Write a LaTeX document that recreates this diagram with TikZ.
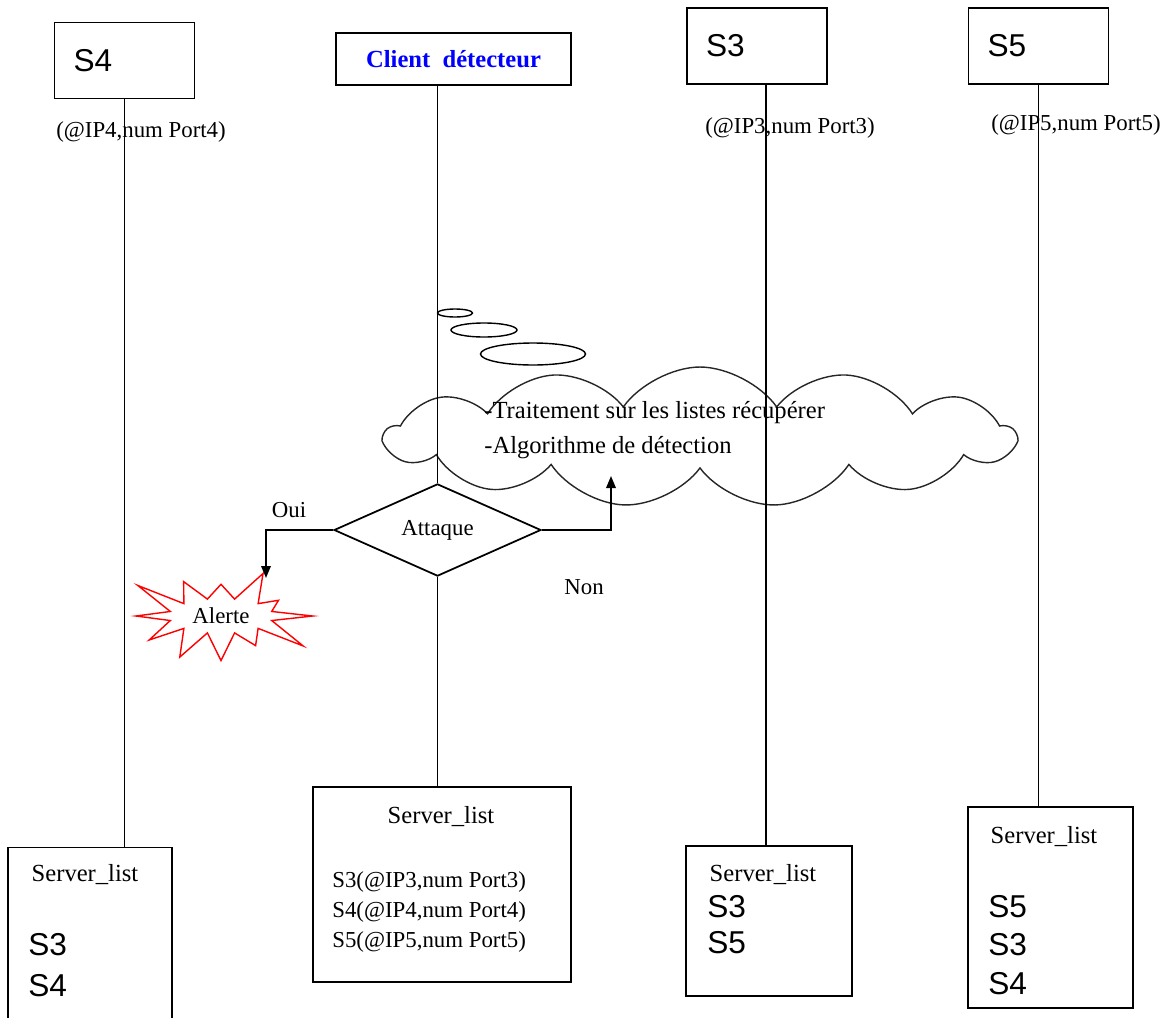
\documentclass[tikz,border=0pt]{standalone}
\usepackage{fontspec}
\setmainfont{Liberation Serif}
\setsansfont{Liberation Sans}
\usepackage{tikz}
\usetikzlibrary{positioning,arrows.meta,shapes.geometric,shapes.symbols}

\begin{document}
\begin{tikzpicture}[
  x=0.02cm, y=-0.02cm,
  font=\fontsize{13}{15}\selectfont,
  srv/.style={draw, line width=1pt, minimum height=1.52cm, text width=2.04cm, inner xsep=0.38cm,
              align=left, font=\sffamily\fontsize{18}{20}\selectfont},
  lst/.style={draw, line width=1pt, inner sep=0pt},
  items/.style={anchor=west, align=left, inner sep=0pt, font=\sffamily\fontsize{18}{22}\selectfont},
  ips/.style={anchor=west, align=left, inner sep=0pt, font=\fontsize{13}{16.8}\selectfont},
  ttl/.style={font=\fontsize{14}{16}\selectfont, inner sep=0pt},
  life/.style={line width=1.1pt},
  arr/.style={-{Triangle[length=2.4mm,width=1.9mm]}, line width=1pt},
  bubble/.style={draw, ellipse, line width=0.8pt, inner sep=0pt},
]
\useasboundingbox (0,0) rectangle (1172,1017);

\node[srv] (s4) at (124.5,60.5) {S4};
\node[srv] (s3) at (757,46) {S3};
\node[srv] (s5) at (1038.5,46) {S5};
\node[draw, line width=1pt, minimum width=4.7cm, minimum height=1.04cm, text=blue,
      font=\bfseries\fontsize{14}{16}\selectfont] (client) at (453.5,59) {Client\enspace détecteur};

\node (ip4) at (141,132) {(@IP4,num Port4)};
\node (ip3) at (790,128) {(@IP3,num Port3)};
\node (ip5) at (1076,125) {(@IP5,num Port5)};

\node[lst, minimum width=3.28cm, minimum height=3.5cm] (s4list) at (90,935) {};
\node[lst, minimum width=5.16cm, minimum height=3.9cm] (clist) at (442,884.5) {};
\node[lst, minimum width=3.32cm, minimum height=3cm] (s3list) at (769,921) {};
\node[lst, minimum width=3.3cm, minimum height=4.02cm] (s5list) at (1050.5,907.5) {};

\node[ttl] (t4) at (85,875) {Server\_list};
\node[ttl] (tc) at (441,817) {Server\_list};
\node[ttl] (t3) at (763,875) {Server\_list};
\node[ttl] (t5) at (1044,837) {Server\_list};

\node[items, font=\sffamily\fontsize{18}{23}\selectfont] (i4) at (28,965) {S3\\S4};
\node[ips] (ic) at (332,912) {S3(@IP3,num Port3)\\S4(@IP4,num Port4)\\S5(@IP5,num Port5)};
\node[items, font=\sffamily\fontsize{18}{20.5}\selectfont] (i3) at (707,925) {S3\\S5};
\node[items] (i5) at (988,945) {S5\\S3\\S4};

\node[cloud, draw=black!85, line width=0.8pt, cloud puffs=13, cloud puff arc=110, aspect=4.5,
      minimum width=12.6cm, minimum height=2.8cm] (cloud) at (700,437) {};
\node[bubble, minimum width=0.7cm, minimum height=0.16cm] (b1) at (455,313) {};
\node[bubble, minimum width=1.32cm, minimum height=0.28cm] (b2) at (484,330) {};
\node[bubble, minimum width=2.1cm, minimum height=0.44cm] (b3) at (533,354) {};
\node[anchor=west, align=left, inner sep=0pt, font=\fontsize{14}{19.5}\selectfont] (proc) at (484,430)
  {-Traitement sur les listes récupérer\\-Algorithme de détection};

\node[draw, diamond, line width=1pt, minimum width=4.14cm, minimum height=1.46cm, inner sep=0pt] (ask)
  at (437.5,530) {Attaque};
\node[starburst, draw=red, line width=0.8pt, starburst points=12, starburst point height=0.9cm,
      random starburst=3, minimum width=3.9cm, minimum height=2.5cm, inner sep=0pt] (alert)
  at (221,616) {Alerte};

\draw[life] (s4.south) -- (s4.south |- s4list.north);
\draw[life] (client.south -| ask.north) -- (ask.north);
\draw[life] (ask.south) -- (ask.south |- clist.north);
\draw[life] ([xshift=0.18cm]s3.south) -- ([xshift=0.18cm]s3.south |- s3list.north);
\draw[life] (s5.south) -- (s5.south |- s5list.north);

\coordinate (ouiend) at (266,578);
\coordinate (nonend) at (611,476);
\draw[arr] (ask.west) -| (ouiend);
\draw[arr] (ask.east) -| (nonend);
\node (oui) at (289,510) {Oui};
\node (non) at (584,587) {Non};
\end{tikzpicture}
\end{document}
